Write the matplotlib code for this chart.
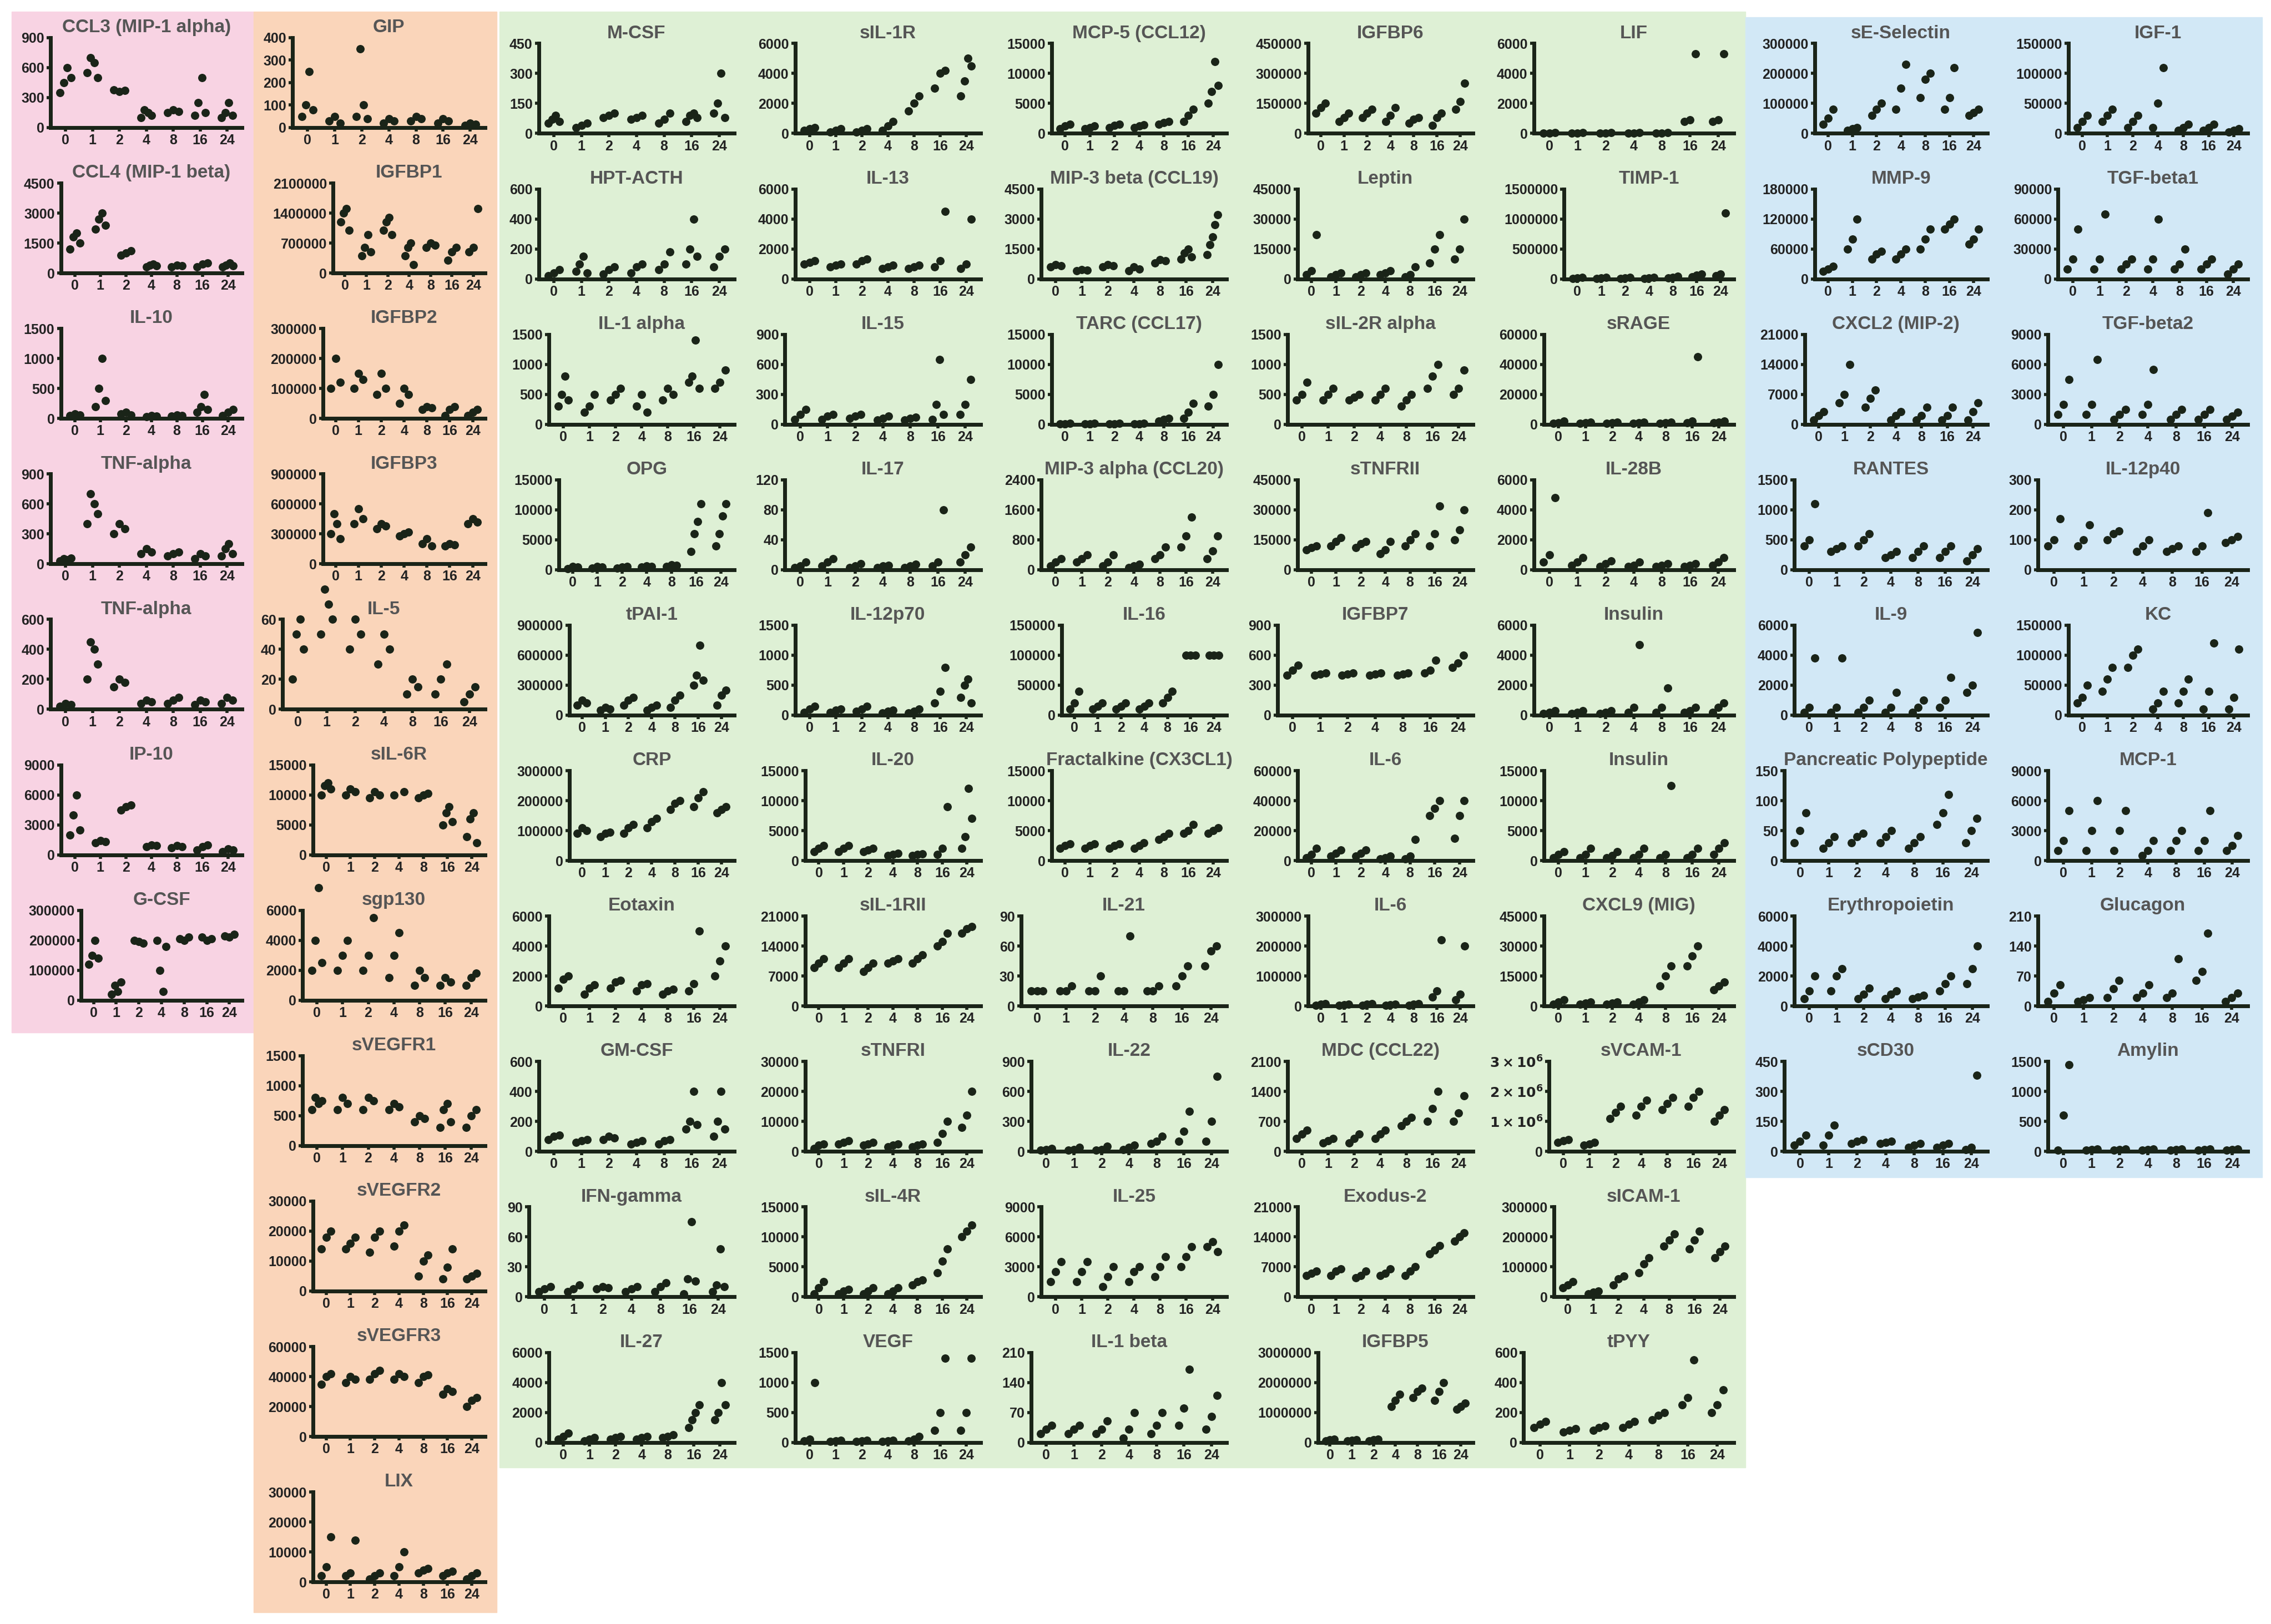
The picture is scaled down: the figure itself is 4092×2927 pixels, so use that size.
import matplotlib
matplotlib.use("Agg")
import matplotlib.pyplot as plt
from matplotlib.patches import Rectangle
from matplotlib.ticker import FuncFormatter
import numpy as np

plt.rcParams['font.family'] = ['Liberation Sans', 'DejaVu Sans']

time_labels = ["0", "1", "2", "4", "8", "16", "24"]
tick_steps_override = {"GIP": 4}

# each panel: (title, tick step, values per time group)
pink_col = [
 ("CCL3 (MIP-1 alpha)", 300, [[350,450,600,500],[550,700,650,500],[380,360,370],[100,180,150,120],[150,180,160],[120,250,500,150],[100,150,250,120]]),
 ("CCL4 (MIP-1 beta)", 1500, [[1200,1800,2000,1500],[2200,2700,3000,2400],[900,1000,1100],[300,400,450,350],[300,400,350],[300,450,500],[300,400,500,350]]),
 ("IL-10", 500, [[50,80,60],[200,500,1000,300],[80,100,60],[30,50,40],[40,60,50],[100,200,400,150],[50,100,150]]),
 ("TNF-alpha", 300, [[30,50,40,60],[400,700,600,500],[300,400,350],[100,150,120],[80,100,120],[50,100,80],[80,150,200,100]]),
 ("TNF-alpha", 200, [[20,40,30],[200,450,400,300],[150,200,180],[40,60,50],[40,60,80],[30,60,50],[40,80,60]]),
 ("IP-10", 3000, [[2000,4000,6000,2500],[1200,1400,1300],[4500,4800,5000],[800,1000,900],[700,900,800],[500,800,1000],[300,600,500]]),
 ("G-CSF", 100000, [[120000,150000,200000,140000],[20000,50000,30000,60000],[200000,195000,190000],[200000,100000,30000,180000],[205000,200000,210000],[210000,200000,205000],[215000,210000,220000]]),
]
orange_col = [
 ("GIP", 100, [[50,100,250,80],[30,50,20],[50,350,100,40],[20,40,30],[30,50,40],[20,40,30],[10,20,15]]),
 ("IGFBP1", 700000, [[1200000,1400000,1500000,1000000],[400000,600000,900000,500000],[1000000,1200000,1300000,900000],[400000,600000,700000,200000],[600000,700000,650000],[300000,500000,600000],[500000,600000,1500000]]),
 ("IGFBP2", 100000, [[100000,200000,120000],[100000,150000,130000],[80000,150000,100000],[50000,100000,80000],[30000,40000,35000],[10000,30000,40000],[10000,20000,30000]]),
 ("IGFBP3", 300000, [[300000,500000,400000,250000],[400000,550000,450000],[350000,400000,380000],[280000,300000,320000],[200000,250000,180000],[180000,200000,190000],[400000,450000,420000]]),
 ("IL-5", 20, [[20,50,60,40],[50,80,70,60],[40,60,50],[30,50,40],[10,20,15],[10,20,30],[5,10,15]]),
 ("sIL-6R", 5000, [[10000,11500,12000,11000],[10000,11000,10500],[9500,10500,10000],[10000,10500],[9500,10000,10200],[5000,7000,8000,5500],[3000,6000,7000,2000]]),
 ("sgp130", 2000, [[2000,4000,7500,2500],[2000,3000,4000],[2000,3000,5500],[1500,3000,4500],[1000,2000,1500],[1000,1500,1200],[1000,1500,1800]]),
 ("sVEGFR1", 500, [[600,800,700,750],[600,800,700],[600,800,750],[600,700,650],[400,500,450],[300,600,700,400],[300,500,600]]),
 ("sVEGFR2", 10000, [[14000,18000,20000],[14000,16000,18000],[13000,18000,20000],[15000,20000,22000],[5000,10000,12000],[4000,8000,14000],[4000,5000,6000]]),
 ("sVEGFR3", 20000, [[35000,40000,42000],[36000,40000,38000],[38000,42000,44000],[38000,42000,40000],[36000,40000,41000],[28000,32000,30000],[20000,24000,26000]]),
 ("LIX", 10000, [[2000,5000,15000],[2000,3000,14000],[1000,2000,3000],[2000,5000,10000],[3000,4000,4500],[2000,3000,3500],[1000,2000,3000]]),
]
green_col1 = [
 ("M-CSF", 150, [[50,70,90,60],[30,40,50],[80,90,100],[70,80,90],[50,70,100],[60,90,100,80],[100,150,300,80]]),
 ("HPT-ACTH", 200, [[20,40,60],[50,100,150,40],[30,60,80],[40,80,100],[60,100,180],[100,200,400,150],[80,150,200]]),
 ("IL-1 alpha", 500, [[300,500,800,400],[200,300,500],[400,500,600],[300,500,200],[400,600,500],[700,800,1400,600],[600,700,900]]),
 ("OPG", 5000, [[200,500,400],[300,500,400],[300,400,500],[400,600,500],[500,800,700],[3000,6000,8000,11000],[4000,6000,9000,11000]]),
 ("tPAI-1", 300000, [[100000,150000,120000],[50000,80000,60000],[100000,150000,180000],[50000,80000,100000],[80000,150000,200000],[300000,400000,700000,350000],[100000,200000,250000]]),
 ("CRP", 100000, [[90000,110000,100000],[80000,90000,95000],[90000,110000,120000],[110000,130000,140000],[170000,190000,200000],[180000,210000,230000],[160000,170000,180000]]),
 ("Eotaxin", 2000, [[1200,1800,2000],[800,1200,1400],[1200,1600,1700],[1000,1400,1500],[800,1000,1100],[1000,1500,5000],[2000,3000,4000]]),
 ("GM-CSF", 200, [[80,100,110],[60,70,80],[80,100,90],[50,60,70],[50,70,80],[150,200,400,180],[100,200,400,150]]),
 ("IFN-gamma", 30, [[5,8,10],[5,8,12],[8,10,9],[5,8,10],[5,10,14],[3,18,75,16],[5,12,48,10]]),
 ("IL-27", 2000, [[200,400,600],[100,200,300],[200,300,400],[200,300,400],[300,400,500],[1000,1500,2000,2500],[1500,2000,4000,2500]]),
]
green_col2 = [
 ("sIL-1R", 2000, [[200,300,400],[100,200,300],[100,200,300],[200,500,800],[1500,2000,2500],[3000,4000,4200],[2500,3500,5000,4500]]),
 ("IL-13", 2000, [[1000,1100,1200],[800,900,1000],[1000,1200,1300],[700,800,900],[700,800,900],[800,1200,4500],[700,1000,4000]]),
 ("IL-15", 300, [[50,100,150],[50,80,100],[60,80,100],[40,60,80],[40,60,70],[50,200,650,100],[100,200,450]]),
 ("IL-17", 40, [[3,5,10],[5,10,15],[3,5,8],[3,5,6],[3,5,7],[5,10,80],[10,20,30]]),
 ("IL-12p70", 500, [[50,100,150],[50,80,100],[60,100,150],[40,60,80],[40,60,100],[200,400,800],[300,500,600,200]]),
 ("IL-20", 5000, [[1500,2000,2500],[1500,2000,2500],[1500,1800,2000],[800,1000,1200],[800,1000,1100],[1000,2000,9000],[2000,4000,12000,7000]]),
 ("sIL-1RII", 7000, [[9000,10000,11000],[9000,10000,11000],[8000,9000,10000],[10000,10500,11000],[10000,11000,12000],[14000,15000,17000],[17000,18000,18500]]),
 ("sTNFRI", 10000, [[1000,2000,2500],[2500,3000,3500],[2000,2500,3000],[1500,2000,2500],[1500,2000,2500],[3000,6000,10000],[8000,12000,20000]]),
 ("sIL-4R", 5000, [[500,1500,2500],[500,1000,1200],[500,1000,1500],[500,1000,1500],[2000,2500,2800],[4000,6000,8000],[10000,11000,12000]]),
 ("VEGF", 500, [[20,50,1000],[10,20,30],[10,20,30],[10,20,30],[20,50,100],[200,500,1400],[200,500,1400]]),
]
green_col3 = [
 ("MCP-5 (CCL12)", 5000, [[800,1200,1500],[800,1000,1200],[1000,1300,1500],[1000,1200,1400],[1500,1800,2000],[2000,3000,4000],[5000,7000,12000,8000]]),
 ("MIP-3 beta (CCL19)", 1500, [[600,700,650],[400,450,420],[600,700,650],[400,600,500],[800,950,900],[1000,1300,1500,1100],[1200,1700,2100,2700,3200]]),
 ("TARC (CCL17)", 5000, [[50,100,200],[50,100,150],[50,100,150],[50,100,200],[500,800,1000],[1000,2000,3500],[3000,5000,10000]]),
 ("MIP-3 alpha (CCL20)", 800, [[100,200,300],[200,300,400],[100,200,400],[50,100,150],[300,400,600],[600,900,1400],[300,500,900]]),
 ("IL-16", 50000, [[10000,20000,40000],[10000,15000,20000],[10000,15000,20000],[10000,15000,20000],[20000,30000,40000],[100000,100000,100000],[100000,100000,100000]]),
 ("Fractalkine (CX3CL1)", 5000, [[2000,2500,2800],[2000,2500,2800],[2000,2500,2800],[2000,2500,3000],[3500,4000,4500],[4500,5000,6000],[4500,5000,5500]]),
 ("IL-21", 30, [[15,15,15],[15,15,20],[15,15,30],[15,15,70],[15,15,20],[20,30,40],[40,55,60]]),
 ("IL-22", 300, [[10,20,30],[10,20,40],[10,20,50],[20,40,60],[80,100,150],[100,200,400],[100,300,750]]),
 ("IL-25", 3000, [[1500,2500,3500],[1500,2500,3500],[1000,2000,3000],[1500,2500,3000],[2000,3000,4000],[3000,4000,5000],[5000,5500,4500]]),
 ("IL-1 beta", 70, [[20,30,40],[20,30,40],[20,30,50],[10,30,70],[20,40,70],[40,80,170],[30,60,110]]),
]
green_col4 = [
 ("IGFBP6", 150000, [[100000,130000,150000],[60000,80000,100000],[80000,100000,120000],[60000,90000,130000],[50000,70000,80000],[40000,80000,100000],[120000,160000,250000]]),
 ("Leptin", 15000, [[2000,4000,22000],[1000,2000,3000],[1000,2000,3000],[2000,3000,4000],[1000,2000,6000],[8000,15000,22000],[10000,15000,30000]]),
 ("sIL-2R alpha", 500, [[400,500,700],[400,500,600],[400,450,500],[400,500,600],[300,400,500],[600,800,1000],[500,600,900]]),
 ("sTNFRII", 15000, [[10000,11000,12000],[12000,14000,16000],[11000,13000,14000],[8000,10000,14000],[12000,15000,18000],[12000,18000,32000],[15000,20000,30000]]),
 ("IGFBP7", 300, [[400,450,500],[400,410,420],[400,410,420],[400,410,420],[400,410,420],[420,450,550],[480,520,600]]),
 ("IL-6", 20000, [[2000,4000,8000],[3000,5000,7000],[3000,5000,7000],[1000,2000,3000],[1000,3000,14000],[30000,35000,40000],[15000,30000,40000]]),
 ("IL-6", 100000, [[2000,5000,8000],[2000,4000,6000],[2000,5000,8000],[2000,4000,6000],[3000,5000,8000],[30000,50000,220000],[20000,40000,200000]]),
 ("MDC (CCL22)", 700, [[300,400,500],[200,250,300],[200,300,400],[300,400,500],[600,700,800],[700,1000,1400],[700,900,1300]]),
 ("Exodus-2", 7000, [[5000,5500,6000],[5000,6000,6500],[4500,5000,6000],[5000,5500,6500],[5000,6000,7000],[10000,11000,12000],[13000,14000,15000]]),
 ("IGFBP5", 1000000, [[50000,80000,100000],[40000,60000,80000],[50000,80000,100000],[1200000,1400000,1600000],[1500000,1700000,1800000],[1400000,1700000,2000000],[1100000,1200000,1300000]]),
]
green_col5 = [
 ("LIF", 2000, [[20,30,40],[20,30,40],[20,30,40],[20,30,40],[20,30,40],[800,900,5300],[800,900,5300]]),
 ("TIMP-1", 500000, [[5000,10000,20000],[5000,10000,20000],[5000,10000,20000],[5000,10000,20000],[10000,20000,40000],[30000,60000,80000],[50000,80000,1100000]]),
 ("sRAGE", 20000, [[500,1000,2000],[500,1000,1500],[500,1000,1500],[500,1000,1500],[500,1000,1500],[1000,2000,45000],[1000,1500,2000]]),
 ("IL-28B", 2000, [[500,1000,4800],[300,500,800],[200,400,600],[200,300,500],[200,300,400],[200,300,400],[300,500,800]]),
 ("Insulin", 2000, [[100,200,300],[100,200,300],[100,200,300],[200,500,4700],[200,500,1800],[200,300,500],[200,500,800]]),
 ("Insulin", 5000, [[500,1000,1500],[500,1000,2000],[500,800,1500],[500,1000,2000],[500,1000,12500],[500,1000,2000],[1000,2000,3000]]),
 ("CXCL9 (MIG)", 15000, [[1000,2000,3000],[1000,1500,2000],[1000,1500,2000],[1000,2000,3000],[10000,15000,20000],[20000,25000,30000],[8000,10000,12000]]),
 ("sVCAM-1", 1000000, [[300000,350000,400000],[200000,250000,300000],[1100000,1300000,1500000],[1200000,1500000,1700000],[1400000,1600000,1800000],[1500000,1800000,2000000],[1000000,1200000,1400000]]),
 ("sICAM-1", 100000, [[30000,40000,50000],[10000,15000,20000],[40000,60000,70000],[80000,110000,130000],[170000,190000,210000],[160000,190000,220000],[130000,150000,170000]]),
 ("tPYY", 200, [[100,120,140],[70,80,90],[80,100,110],[100,120,140],[150,180,200],[250,300,550],[200,250,350]]),
]
blue_col1 = [
 ("sE-Selectin", 100000, [[30000,50000,80000],[10000,15000,20000],[60000,80000,100000],[80000,150000,230000],[120000,180000,200000],[80000,120000,220000],[60000,70000,80000]]),
 ("MMP-9", 60000, [[15000,20000,25000],[60000,80000,120000],[40000,50000,55000],[40000,50000,60000],[60000,80000,100000],[100000,110000,120000],[70000,80000,100000]]),
 ("CXCL2 (MIP-2)", 7000, [[1000,2000,3000],[5000,7000,14000],[4000,6000,8000],[1000,2000,3000],[1000,2000,4000],[1000,2000,4000],[1000,3000,5000]]),
 ("RANTES", 500, [[400,500,1100],[300,350,400],[400,500,600],[200,250,300],[200,300,400],[200,300,400],[150,250,350]]),
 ("IL-9", 2000, [[200,500,3800],[200,500,3800],[200,500,1000],[200,500,1500],[200,500,1000],[500,1000,2500],[1500,2000,5500]]),
 ("Pancreatic Polypeptide", 50, [[30,50,80],[20,30,40],[30,40,45],[30,40,50],[20,30,40],[60,80,110],[30,50,70]]),
 ("Erythropoietin", 2000, [[500,1000,2000],[1000,2000,2500],[500,800,1200],[500,800,1000],[500,600,700],[1000,1500,2000],[1500,2500,4000]]),
 ("sCD30", 150, [[30,50,80],[30,80,130],[40,50,60],[40,45,50],[20,30,40],[20,30,40],[10,20,380]]),
]
blue_col2 = [
 ("IGF-1", 50000, [[10000,20000,30000],[20000,30000,40000],[10000,20000,30000],[10000,50000,110000],[5000,10000,15000],[5000,10000,15000],[2000,5000,8000]]),
 ("TGF-beta1", 30000, [[10000,20000,50000],[10000,20000,65000],[10000,15000,20000],[10000,20000,60000],[10000,15000,30000],[10000,15000,20000],[5000,10000,15000]]),
 ("TGF-beta2", 3000, [[1000,2000,4500],[1000,2000,6500],[500,1000,1500],[1000,2000,5500],[500,1000,1500],[500,1000,1500],[500,800,1200]]),
 ("IL-12p40", 100, [[80,100,170],[80,100,150],[100,120,130],[60,80,100],[60,70,80],[60,80,190],[90,100,110]]),
 ("KC", 50000, [[20000,30000,50000],[40000,60000,80000],[80000,100000,110000],[10000,20000,40000],[20000,40000,60000],[10000,40000,120000],[10000,30000,110000]]),
 ("MCP-1", 3000, [[1000,2000,5000],[1000,3000,6000],[1000,3000,5000],[500,1000,2000],[1000,2000,3000],[1000,2000,5000],[1000,1500,2500]]),
 ("Glucagon", 70, [[10,30,50],[10,15,20],[20,40,60],[20,30,50],[20,30,110],[60,80,170],[10,20,30]]),
 ("Amylin", 500, [[20,600,1450],[20,30,40],[20,30,40],[20,30,40],[20,30,40],[20,30,40],[20,30,40]]),
]

W, H = 1568.0, 1120.0
fig = plt.figure(figsize=(40.92, 29.27), dpi=100)
fig.patch.set_facecolor("white")

regions = [
    ((8, 8, 175, 712), "#F8D3E3"),
    ((175, 8, 343, 1112), "#FAD5BA"),
    ((345, 8, 1205, 1012), "#DEF0D5"),
    ((1205, 12, 1562, 812), "#D2E8F6"),
]
bg = fig.add_axes([0, 0, 1, 1]); bg.set_xlim(0, W); bg.set_ylim(H, 0); bg.axis("off")
for (x0, y0, x1, y1), c in regions:
    bg.add_patch(Rectangle((x0, y0), x1 - x0, y1 - y0, color=c, zorder=0))

columns = [
    (pink_col, 8, 175, 5), (orange_col, 175, 343, 5),
    (green_col1, 345, 515, 9), (green_col2, 515, 685, 9), (green_col3, 685, 855, 9),
    (green_col4, 855, 1025, 9), (green_col5, 1025, 1205, 9),
    (blue_col1, 1205, 1380, 9), (blue_col2, 1380, 1560, 9),
]

def sci_fmt(v, pos):
    if v == 0:
        return "0"
    return r"$\mathbf{%d\times10^6}$" % int(round(v / 1e6))

def plain_fmt(v, pos):
    return "%d" % int(round(v))

for panels, x0, x1, top in columns:
    for i, (title, step, groups) in enumerate(panels):
        y0 = top + i * 100.3
        sci = title == "sVCAM-1"
        nst = tick_steps_override.get(title, 3)
        nch = 5.5 if sci else len(str(nst * step))
        ax_l = x0 + 6 + nch * 7.0
        ax_r = x1 - 8
        ax_t = y0 + 21
        ax_b = y0 + 83
        ax = fig.add_axes([ax_l / W, 1 - ax_b / H, (ax_r - ax_l) / W, (ax_b - ax_t) / H])
        ax.set_facecolor("none")
        for g, vals in enumerate(groups):
            n = len(vals)
            offs = np.linspace(-0.2, 0.2, n) if n > 1 else np.zeros(1)
            ax.scatter(g + offs, vals, s=95, color="#1a2418", zorder=3, clip_on=False)
        ax.set_xlim(-0.55, 6.55)
        ax.set_ylim(0, nst * step)
        ax.set_yticks([k * step for k in range(nst + 1)])
        ax.yaxis.set_major_formatter(FuncFormatter(sci_fmt if sci else plain_fmt))
        ax.set_xticks(range(7))
        ax.set_xticklabels(time_labels)
        for s in ("top", "right"):
            ax.spines[s].set_visible(False)
        for s in ("left", "bottom"):
            ax.spines[s].set_linewidth(5)
            ax.spines[s].set_color("#1a2418")
        ax.tick_params(axis="both", width=4, length=5, color="#1a2418", labelsize=18, pad=3)
        for lab in ax.get_xticklabels() + ax.get_yticklabels():
            lab.set_fontweight("bold")
            lab.set_color("#222222")
        fig.text(((ax_l + ax_r) / 2) / W, 1 - (y0 + 14) / H, title, ha="center", va="center",
                 fontsize=24, fontweight="bold", color="#555555")

fig.savefig("out.png", dpi=100)
